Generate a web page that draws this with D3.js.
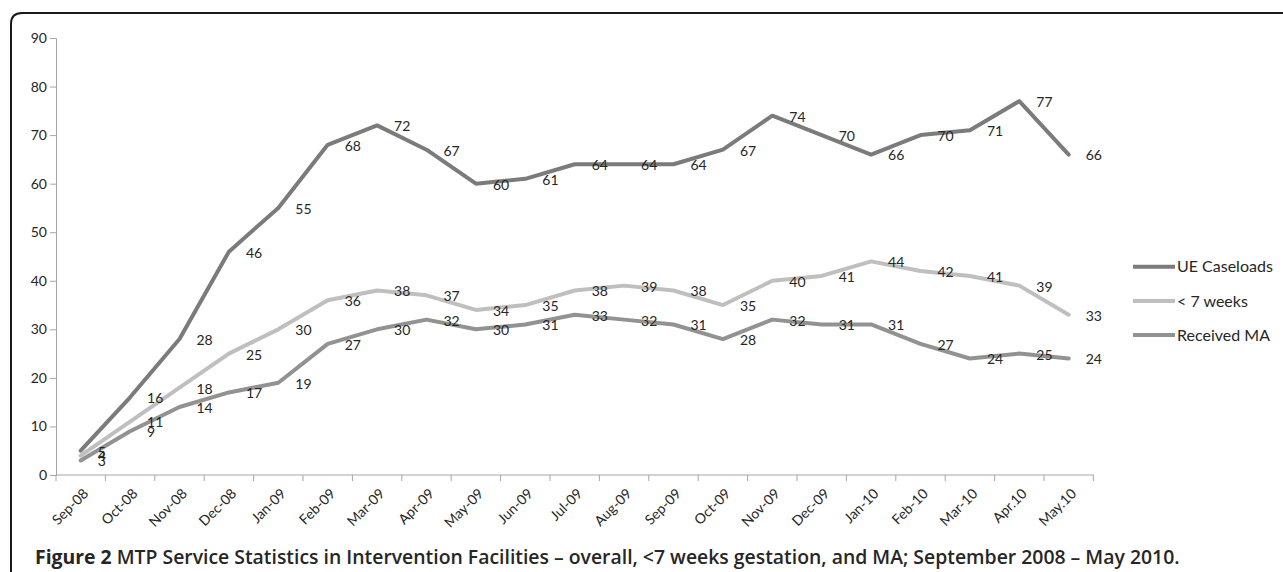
<!DOCTYPE html>
<html>
<head>
<meta charset="utf-8">
<script src="https://cdn.jsdelivr.net/npm/d3@7"></script>
<style>
  body { margin: 0; background: #fff; }
  svg { display: block; }
  text { fill: #262626; }
</style>
</head>
<body>
<div id="chart"></div>
<script>
// DATA
const months = ["Sep-08", "Oct-08", "Nov-08", "Dec-08", "Jan-09", "Feb-09", "Mar-09",
  "Apr-09", "May-09", "Jun-09", "Jul-09", "Aug-09", "Sep-09", "Oct-09", "Nov-09",
  "Dec-09", "Jan-10", "Feb-10", "Mar-10", "Apr.10", "May.10"];
const ueCaseloads = [5, 16, 28, 46, 55, 68, 72, 67, 60, 61, 64, 64, 64, 67, 74, 70, 66, 70, 71, 77, 66];
const under7Weeks = [4, 11, 18, 25, 30, 36, 38, 37, 34, 35, 38, 39, 38, 35, 40, 41, 44, 42, 41, 39, 33];
const receivedMA = [3, 9, 14, 17, 19, 27, 30, 32, 30, 31, 33, 32, 31, 28, 32, 31, 31, 27, 24, 25, 24];
const seriesNames = ["UE Caseloads", "< 7 weeks", "Received MA"];
const yTicks = [0, 10, 20, 30, 40, 50, 60, 70, 80, 90];

const WIDTH = 1283, HEIGHT = 572;
const COLORS = ["#7b7b7b", "#bfbfbf", "#929292"];
const FONT = "Lato, 'Open Sans', sans-serif";

const series = [ueCaseloads, under7Weeks, receivedMA].map((values, i) => ({
  name: seriesNames[i],
  color: COLORS[i],
  values: values.map((v, j) => ({ month: months[j], value: v }))
}));

// CANVAS
const svg = d3.select("#chart")
  .append("svg")
  .attr("width", WIDTH)
  .attr("height", HEIGHT);

// frame (rounded top-left corner, open at right)
svg.append("path")
  .attr("d", "M11,572 L11,24 Q11,13 22,13 L1283,13")
  .attr("fill", "none")
  .attr("stroke", "#1a1a1a")
  .attr("stroke-width", 2);

// SCALE
const x = d3.scaleBand().domain(months).range([56, 1093.4]).padding(0);
const y = d3.scaleLinear().domain([0, 90]).range([475, 38]);

// AXIS
const yAxis = svg.append("g")
  .attr("transform", "translate(56,0)")
  .call(d3.axisLeft(y).tickValues(yTicks).tickSize(6).tickPadding(3));
yAxis.selectAll(".tick text")
  .style("font-family", FONT).style("font-size", "14px").attr("fill", "#262626");
yAxis.select(".domain").attr("stroke", "#a6a6a6");
yAxis.selectAll(".tick line").attr("stroke", "#a6a6a6");

const xAxis = svg.append("g")
  .attr("transform", "translate(0,475)");
xAxis.append("line")
  .attr("x1", x.range()[0]).attr("x2", x.range()[1])
  .attr("stroke", "#a6a6a6");
xAxis.selectAll("tickmark")
  .data(d3.range(months.length + 1))
  .enter()
  .append("line")
  .attr("x1", (i) => x.range()[0] + i * x.bandwidth())
  .attr("x2", (i) => x.range()[0] + i * x.bandwidth())
  .attr("y1", 0).attr("y2", 6)
  .attr("stroke", "#a6a6a6");
xAxis.selectAll("ticklabel")
  .data(months)
  .enter()
  .append("text")
  .attr("transform", (d) => `translate(${x(d) + x.bandwidth() / 2 + 5}, 16) rotate(-45)`)
  .attr("text-anchor", "end")
  .attr("dy", "0.35em")
  .style("font-family", FONT)
  .style("font-size", "14px")
  .text((d) => d);

// ELEMENTS
const line = d3.line()
  .x((d) => x(d.month) + x.bandwidth() / 2)
  .y((d) => y(d.value));

svg.selectAll("series")
  .data(series)
  .enter()
  .append("path")
  .attr("d", (d) => line(d.values))
  .attr("fill", "none")
  .attr("stroke", (d) => d.color)
  .attr("stroke-width", 4)
  .attr("stroke-linejoin", "round")
  .attr("stroke-linecap", "round");

// data labels (right of each point, as in the original; the first three overlap there too)
series.forEach((s) => {
  svg.selectAll("labels")
    .data(s.values)
    .enter()
    .append("text")
    .attr("x", (d) => x(d.month) + x.bandwidth() / 2 + 17)
    .attr("y", (d) => y(d.value) + 1)
    .attr("dy", "0.35em")
    .style("font-family", FONT)
    .style("font-size", "14px")
    .text((d) => d.value);
});

// LEGEND
const legend = svg.selectAll("legend")
  .data(series)
  .enter()
  .append("g")
  .attr("transform", (d, i) => `translate(1133, ${266.7 + i * 34.2})`);
legend.append("line")
  .attr("x1", 0).attr("x2", 42)
  .attr("stroke", (d) => d.color)
  .attr("stroke-width", 4);
legend.append("text")
  .attr("x", 44)
  .attr("dy", "0.35em")
  .style("font-family", FONT)
  .style("font-size", "16px")
  .text((d) => d.name);

// CAPTION
const caption = svg.append("text")
  .attr("x", 35)
  .attr("y", 564)
  .style("font-family", "'Open Sans', sans-serif")
  .style("font-size", "19.4px")
  .style("font-weight", 600);
caption.append("tspan").style("font-weight", 700).text("Figure 2");
caption.append("tspan").text(" MTP Service Statistics in Intervention Facilities \u2013 overall, <7 weeks gestation, and MA; September 2008 \u2013 May 2010.");
</script>
</body>
</html>
